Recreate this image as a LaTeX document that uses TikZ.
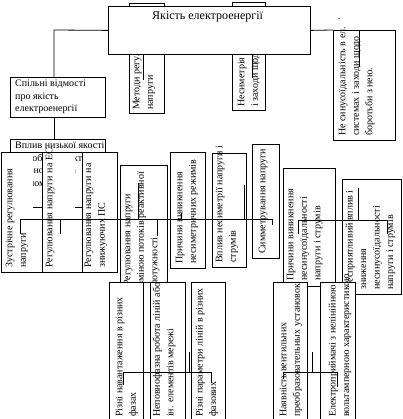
\documentclass[tikz,border=0pt]{standalone}
\usepackage{fontspec}
\setmainfont{Liberation Serif}
\tikzset{
  bx/.style={draw, line width=0.8pt, fill=white, inner sep=0pt, anchor=north west},
  bxo/.style={draw, line width=0.8pt, inner sep=0pt, anchor=north west},
  rt/.style={rotate=90, anchor=north west, align=left, inner sep=0pt, font=\fontsize{10}{13.5}\selectfont},
  ht/.style={anchor=north west, align=left, inner sep=0pt, font=\fontsize{10}{12.5}\selectfont},
  ln/.style={line width=0.8pt},
}
\begin{document}
\begin{tikzpicture}[x=1pt,y=-1pt]
\useasboundingbox (0,0) rectangle (402,419);
\clip (0,0) rectangle (402,419);
% top hidden boxes
\node[bx, minimum width=35pt, minimum height=110pt] (metody) at (129,3) {};
\node[rt] (metodyt) at (132.5,110) {Методи регулювання\\напруги};
\node[bx, minimum width=33pt, minimum height=108pt] (nesym) at (232,2) {};
\node[rt] (nesymt) at (237.5,107) {Несиметрія в системах\\і заходи щодо її};
% main
\node[bx, minimum width=202pt, minimum height=48pt] (main) at (108,6) {};
\node[anchor=base west, inner sep=0pt, font=\fontsize{12}{14}\selectfont] (maint) at (152,20) {Якість електроенергії};
\node[anchor=base, inner sep=0pt, font=\fontsize{10}{12}\selectfont] (dot) at (339,20) {.};
% right box
\node[bx, minimum width=62pt, minimum height=110pt] (rbox) at (333,30) {};
\node[rt] (rboxt) at (338.5,136) {Не синусоїдальність в ел.\\системах і заходи щодо\\боротьби з нею.};
% left chain
\node[bx, minimum width=95pt, minimum height=40pt] (sp) at (10,77) {};
\node[ht] (spt) at (15,80) {Спільні відмості\\про якість\\електроенергії};
\node[bx, minimum width=95pt, minimum height=68pt] (vp) at (10,139) {};
\node[ht] (vpt) at (15,142) {Вплив низької якості\\на роботу електро-\\установок і на\\економіку};
% row boxes
\fill[white] (1,152) rectangle (33,272);
\node[bxo, minimum width=41pt, minimum height=120pt] (r1) at (1,152) {};
\node[rt] (r1t) at (5.5,268) {Зустрічне регулювання\\напруги};
\fill[white] (42,152) rectangle (75,272);
\node[bxo, minimum width=40pt, minimum height=120pt] (r2) at (42,152) {};
\node[rt] (r2t) at (45.5,268) {Регулювання напруги на ЕС};
\node[bx, minimum width=35pt, minimum height=120pt] (r3) at (82,152) {};
\node[rt] (r3t) at (84.5,268) {Регулювання напруги на\\знижуючих ПС};
\node[bx, minimum width=47pt, minimum height=125pt] (r4) at (120,165) {};
\node[rt] (r4t) at (123.5,286) {Регулювання напруги\\зміною потоків реактивної\\потужності};
\node[bx, minimum width=35pt, minimum height=116pt] (r5) at (170,152) {};
\node[rt] (r5t) at (175.5,264) {Причини виникнення\\несиметричних режимів};
\node[bx, minimum width=34pt, minimum height=114pt] (r6) at (212,153) {};
\node[rt] (r6t) at (215.5,263) {Вплив несиметрії напруги і\\струмів};
\node[bx, minimum width=27pt, minimum height=114pt] (r7) at (252,144) {};
\node[rt] (r7t) at (258.5,254) {Симметрування напруги};
\node[bx, minimum width=52pt, minimum height=118pt] (r8) at (283,168) {};
\node[rt] (r8t) at (286.5,281) {Причини виникнення\\несинусоїдальності\\напруги і струмів};
\node[bx, minimum width=59pt, minimum height=115pt] (r9) at (342,179) {};
\node[rt] (r9t) at (345.5,290) {Несприятливий вплив і\\зниження\\несинусоїдальності\\напруги і струмів};
% bottom boxes
\fill[white] (109,282) rectangle (185,425);
\fill[white] (191,282) rectangle (225,425);
\fill[white] (273,282) rectangle (307,425);
\fill[white] (320,282) rectangle (355,425);
\node[bxo, minimum width=41pt, minimum height=143pt] (b1) at (109,282) {};
\node[bxo, minimum width=42pt, minimum height=143pt] (b2) at (143,282) {};
\node[bxo, minimum width=34pt, minimum height=143pt] (b3) at (191,282) {};
\node[bxo, minimum width=34pt, minimum height=143pt] (b4) at (273,282) {};
\node[bxo, minimum width=35pt, minimum height=143pt] (b5) at (320,282) {};
\node[rt] (b1t) at (115.5,417) {Різні навантаження в різних\\фазах};
\node[rt] (b2t) at (152.5,417) {Неповнофазна робота ліній або\\ін. елементів мережі};
\node[rt] (b3t) at (195.5,417) {Різні параметри ліній в різних\\фазових};
\node[rt] (b4t) at (279.5,417) {Наявність вентильних\\преобразовательных установок};
\node[rt] (b5t) at (328.5,417) {Електроприймачі з нелінійною\\вольтамперною характеристикою};
% connector points
\coordinate (l1a) at (54,30);
\coordinate (l1b) at (54,77);
\coordinate (l2a) at (54,117);
\coordinate (l2b) at (54,139);
\draw[ln] (main.west) -- (l1a) -- (l1b);
\draw[ln] (l2a) -- (l2b);
\draw[ln] (main.east) -- (rbox.north west);
\coordinate (m1) at (143,54); \coordinate (m2) at (143,80);
\coordinate (n1) at (252,54); \coordinate (n2) at (252,78);
\coordinate (q1) at (359,30); \coordinate (q2) at (359,67);
\draw[ln] (m1) -- (m2);
\draw[ln] (n1) -- (n2);
\draw[ln] (q1) -- (q2);
% bus A
\coordinate (a1) at (20,219); \coordinate (a2) at (272,219);
\draw[ln] (a1) -- (a2);
\coordinate (a3) at (60,219); \coordinate (a4) at (157,219); \coordinate (a5) at (138,219);
\coordinate (a6) at (244,219); \coordinate (a7) at (181,219);
\draw[ln] (a1) -- ++(0,15);
\draw[ln] (a3) -- ++(0,15);
\draw[ln] (a4) -- ++(0,17);
\draw[ln] (a2) -- ++(0,6);
\draw[ln] (a5) -- ++(0,-36);
\draw[ln] (a6) -- ++(0,-34);
\draw[ln] (a7) -- ++(0,-6);
% bus B
\coordinate (c1) at (298,220); \coordinate (c2) at (387,220); \coordinate (c3) at (358,220);
\draw[ln] (c1) -- (c2);
\draw[ln] (c1) -- ++(0,14);
\draw[ln] (c2) -- ++(0,14);
\draw[ln] (c3) -- ++(0,-32);
% bus C
\coordinate (d1) at (123,372); \coordinate (d2) at (211,372); \coordinate (d3) at (189,372);
\draw[ln] (d1) -- (d2);
\draw[ln] (d3) -- ++(0,-20);
\draw[ln] (d1) -- ++(0,13);
\draw[ln] (d2) -- ++(0,11);
% bus D
\coordinate (e1) at (283,372); \coordinate (e2) at (337,372); \coordinate (e3) at (312,372);
\draw[ln] (e1) -- (e2);
\draw[ln] (e3) -- ++(0,-20);
\draw[ln] (e1) -- ++(0,7);
\draw[ln] (e2) -- ++(0,15);
\end{tikzpicture}
\end{document}
